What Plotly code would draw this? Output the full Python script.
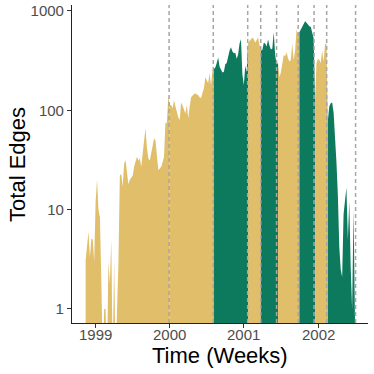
import pandas as pd
import plotly.graph_objects as go

# weekly edge counts, starting mid-Nov 1998 (weeks that drop below the axis read as ~0.3)
start_week = "1998-11-16"
edges = [3.1, 4.5, 6, 3.3, 5.1, 5, 3, 12, 20, 10,
         8.4, 2, 0.3, 1, 1, 0.3, 3, 1.8, 5, 0.3,
         3.1, 0.3, 1.05, 2.9, 22, 23, 17, 29, 31.6, 24,
         18, 20, 21, 22, 27, 30, 34, 31, 33, 27,
         38, 55, 66, 42, 33, 31, 37, 42, 52, 50,
         33, 25, 26, 27, 30, 34, 75, 74, 140, 113,
         113, 105, 126, 110, 93, 85, 80, 120, 112, 100,
         93, 113, 83, 110, 135, 140, 146, 148, 145, 142,
         135, 132, 150, 167, 215, 200, 187, 237, 178, 254,
         260, 270, 300, 340, 275, 255, 240, 245, 290, 300,
         355, 400, 430, 390, 375, 380, 330, 365, 470, 520,
         230, 180, 280, 243, 480, 500, 520, 540, 520, 480,
         510, 545, 455, 400, 405, 480, 470, 440, 515, 450,
         410, 420, 610, 360, 290, 300, 215, 240, 300, 360,
         350, 385, 335, 310, 320, 470, 320, 400, 650, 580,
         610, 650, 680, 740, 790, 760, 720, 700, 690, 610,
         530, 130, 300, 330, 320, 300, 400, 310, 470, 460,
         80, 110, 118, 120, 95, 58, 30, 14, 4.2, 2.5,
         2.1, 9, 12.6, 16.7, 5, 12, 2.6, 1, 10, 0.8]

# period boundaries (dashed lines) and fill colour of each period
boundaries = ["1999-12-31", "2000-08-04", "2001-01-20", "2001-03-25", "2001-06-11",
              "2001-09-25", "2001-12-12", "2002-02-12", "2002-07-04"]
tan = "#E1BE6A"
green = "#0E7A5D"
period_colors = [tan, tan, green, tan, green, tan, green, tan, green]

year_ticks = ["1999-01-01", "2000-01-01", "2001-01-01", "2002-01-01"]
year_labels = ["1999", "2000", "2001", "2002"]

weeks = pd.date_range(start_week, periods=len(edges), freq="7D")
df = pd.DataFrame({"week": weeks, "edges": edges})
bounds = pd.to_datetime(boundaries)
df["period"] = bounds.searchsorted(df["week"])

fig = go.Figure()
for p, col in enumerate(period_colors):
    idx = df.index[df["period"] == p]
    if len(idx) == 0:
        continue
    last = min(idx[-1] + 1, len(df) - 1)
    seg = df.loc[idx[0]:last]
    fig.add_trace(go.Scatter(x=seg["week"], y=seg["edges"], mode="lines",
                             line=dict(width=0, color=col), fill="tozeroy",
                             fillcolor=col, hoverinfo="skip", showlegend=False))

for b in boundaries:
    fig.add_shape(type="line", x0=b, x1=b, y0=0, y1=1, yref="paper",
                  line=dict(color="#A6A6A6", width=1.5, dash="4px,3px"))

# x tick labels sit close to the axis, like ggplot
for t, lab in zip(year_ticks, year_labels):
    fig.add_annotation(text=lab, x=t, y=-0.037, xref="x", yref="paper",
                       yanchor="middle", showarrow=False,
                       font=dict(size=15, color="#4D4D4D"))

# axis titles placed by hand
fig.add_annotation(text="Total Edges", x=-0.186, y=0.5, xref="paper", yref="paper",
                   xanchor="center", yanchor="middle", textangle=-90,
                   showarrow=False, font=dict(size=22, color="black"))
fig.add_annotation(text="Time (Weeks)", x=0.5, y=-0.102, xref="paper", yref="paper",
                   xanchor="center", yanchor="middle",
                   showarrow=False, font=dict(size=22, color="black"))

fig.update_layout(
    width=374, height=374,
    margin=dict(l=72, r=6, t=5, b=51, autoexpand=False),
    plot_bgcolor="white", paper_bgcolor="white",
    font=dict(family="Liberation Sans, Arial, sans-serif", color="black"),
)
fig.update_xaxes(
    type="date", range=["1998-09-10", "2002-09-03"], automargin=False,
    tickvals=year_ticks, showticklabels=False,
    showgrid=False, showline=True, linecolor="#222", linewidth=1.1,
    ticks="outside", ticklen=4, tickcolor="#333",
)
fig.update_yaxes(
    type="log", range=[-0.141, 3.06], automargin=False,
    tickvals=[1, 10, 100, 1000], ticktext=["1", "10", "100", "1000"],
    showgrid=False, showline=True, linecolor="#222", linewidth=1.1,
    ticks="outside", ticklen=4, tickcolor="#333",
    tickfont=dict(size=15, color="#4D4D4D"),
)

fig.write_html("out.html", config={"displayModeBar": False},
               post_script="document.body.style.margin='0';")
